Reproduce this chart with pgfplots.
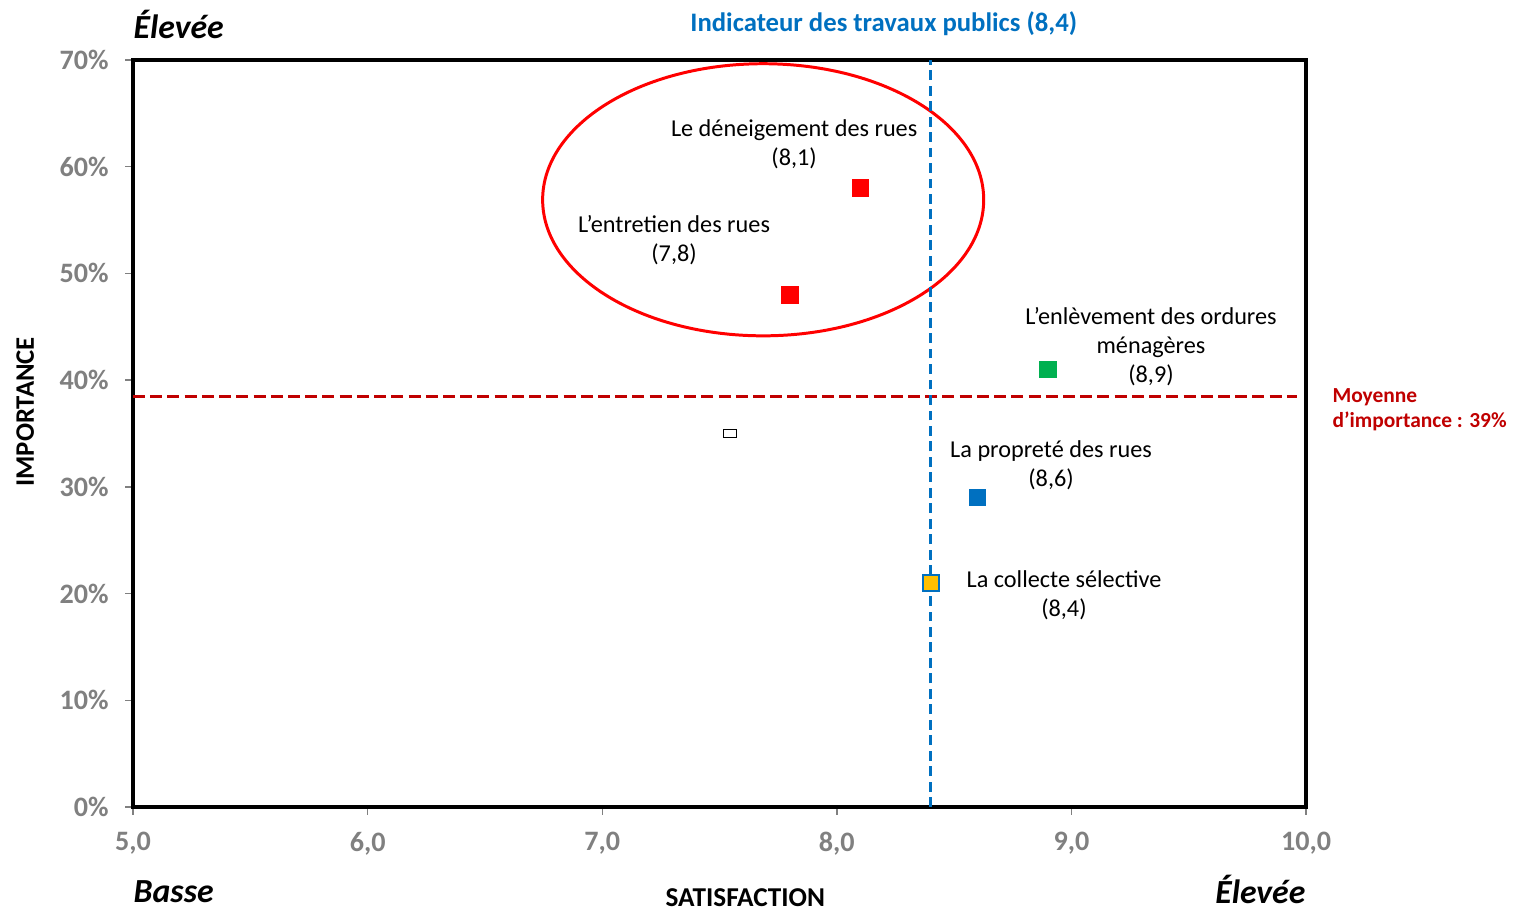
\documentclass[border=0pt]{standalone}
\usepackage{pgfplots}
\pgfplotsset{compat=1.18}
\usepackage{fontspec}
\setmainfont{Carlito}
\definecolor{tickgray}{HTML}{808080}
\definecolor{xlblue}{HTML}{0070C0}
\definecolor{xldred}{HTML}{C00000}
\definecolor{xlgreen}{HTML}{00B050}
\definecolor{xlyellow}{HTML}{FFC000}
\tikzset{
  lbl/.style={font=\fontsize{6.9}{8.25}\selectfont, align=center},
  corner/.style={font=\fontsize{9.6}{11}\selectfont\bfseries\itshape, inner sep=0pt},
}
\begin{document}
\begin{tikzpicture}
  \begin{axis}[
      scale only axis,
      width=11.73cm, height=7.47cm,
      xmin=5, xmax=10, ymin=0, ymax=70,
      xtick={5,6,...,10}, ytick={0,10,...,70},
      xtick pos=bottom, ytick pos=left,
      tick align=outside,
      major tick length=0.08cm,
      tick style={tickgray, line width=0.4pt},
      axis line style={black, line width=1.1pt},
      /pgf/number format/assume math mode=true,
      x tick label style={/pgf/number format/fixed, /pgf/number format/zerofill,
        /pgf/number format/precision=1, /pgf/number format/use comma},
      xticklabel style={font=\fontsize{8}{9}\selectfont\bfseries, text=tickgray, yshift=-0.05cm},
      yticklabel={\pgfmathprintnumber{\tick}\%},
      yticklabel style={font=\fontsize{8}{9}\selectfont\bfseries, text=tickgray, xshift=-0.04cm},
      clip=false,
    ]
    % ellipse around the two street items
    \draw[red, line width=0.85pt] (axis cs:7.686,56.9) ellipse [x radius=0.94, y radius=12.75];
    % mean importance line
    \addplot[xldred, line width=0.9pt, dash pattern=on 3.4pt off 1.5pt] coordinates {(5,38.5) (9.96,38.5)};
    % points
    \addplot[only marks, mark=square*, mark size=2.3pt, red] coordinates {(8.1,58) (7.8,48)};
    \addplot[only marks, mark=square*, mark size=2.3pt, xlgreen] coordinates {(8.9,41)};
    \addplot[only marks, mark=square*, mark size=2.3pt, xlblue] coordinates {(8.6,29)};
    \addplot[only marks, mark=square*, mark size=2.3pt, mark options={fill=xlyellow, draw=xlblue, line width=0.6pt}] coordinates {(8.4,21)};
    \addplot[only marks, mark=square*, mark size=1.2pt, mark options={fill=white, draw=black, line width=0.3pt, xscale=1.5}] coordinates {(7.545,35)};
    % public works indicator
    \addplot[xlblue, line width=0.75pt, dash pattern=on 2.8pt off 1.6pt] coordinates {(8.4,0) (8.4,70)};
    % labels
    \node[lbl] at (axis cs:7.818,62.1) {Le déneigement des rues\\(8,1)};
    \node[lbl] at (axis cs:7.306,53.1) {L’entretien des rues\\(7,8)};
    \node[lbl] at (axis cs:9.339,43.1) {L’enlèvement des ordures\\ménagères\\(8,9)};
    \node[lbl] at (axis cs:8.913,32.05) {La propreté des rues\\(8,6)};
    \node[lbl] at (axis cs:8.968,19.8) {La collecte sélective\\(8,4)};
    \node[anchor=west, align=left, inner sep=0pt, text=xldred, font=\fontsize{6.1}{7.1}\selectfont\bfseries] at (axis cs:10.11,37.2) {Moyenne\\d’importance : 39\%};
    \node[text=xlblue, font=\fontsize{7.6}{9}\selectfont\bfseries] at (axis cs:8.2,73.4) {Indicateur des travaux publics (8,4)};
    \node[corner, anchor=west] at (rel axis cs:0,1.048) {Élevée};
    \node[corner, anchor=west] at (rel axis cs:0,-0.114) {Basse};
    \node[corner, anchor=east] at (rel axis cs:1,-0.111) {Élevée};
    \node[font=\fontsize{7.75}{9}\selectfont\bfseries] at (rel axis cs:0.522,-0.122) {SATISFACTION};
    \node[rotate=90, font=\fontsize{7.6}{9}\selectfont\bfseries] at (rel axis cs:-0.092,0.529) {IMPORTANCE};
    \coordinate (bl) at (rel axis cs:-0.1134,-0.1379);
    \coordinate (tr) at (rel axis cs:1.1841,1.0803);
  \end{axis}
  \pgfresetboundingbox
  \path[use as bounding box] (bl) rectangle (tr);
\end{tikzpicture}
\end{document}
